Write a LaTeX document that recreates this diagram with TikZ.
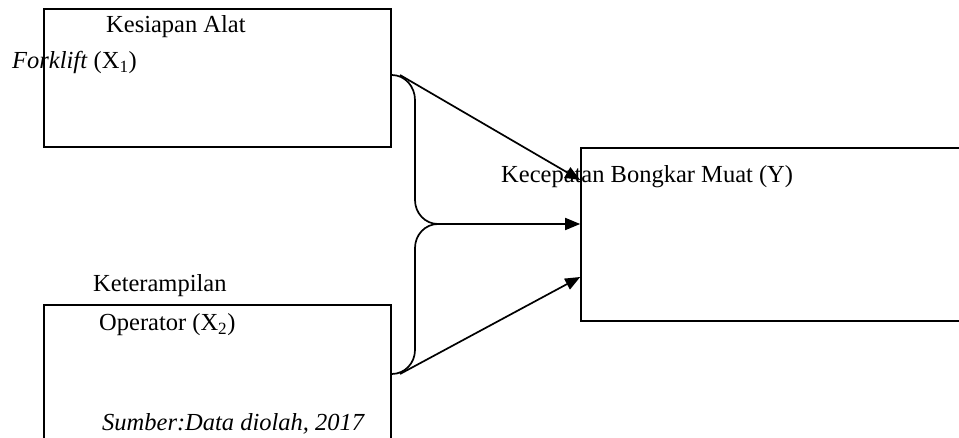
\documentclass[tikz,border=0pt]{standalone}
\usepackage{fontspec}
\setmainfont{Liberation Serif}
\usetikzlibrary{arrows.meta}
\begin{document}
\begin{tikzpicture}[x=1pt,y=-1pt,
  box/.style={draw,line width=1.6pt,inner sep=0pt},
  lbl/.style={anchor=base west,inner sep=0pt,font=\fontsize{24.5}{28}\selectfont},
  link/.style={line width=1.7pt},
  arr/.style={link,-{Triangle[length=15pt,width=12pt]}}]
\useasboundingbox (0,0) rectangle (959,438);
% variable boxes
\node[box,minimum width=347pt,minimum height=138pt] (b1) at (217.5,78) {};
\node[box,minimum width=347pt,minimum height=145pt] (b2) at (217.5,377.5) {};
\node[box,minimum width=384pt,minimum height=173pt] (by) at (773,234.5) {};
% labels
\node[lbl] (t1) at (106,33) {Kesiapan Alat};
\node[lbl] (t2) at (12,69) {\textit{Forklift} (X\textsubscript{1})};
\node[lbl] (t3) at (93,292) {Keterampilan};
\node[lbl] (t4) at (99,331) {Operator (X\textsubscript{2})};
\node[lbl] (t5) at (102,430) {\textit{Sumber:Data diolah, 2017}};
\node[lbl] (t6) at (501,183) {Kecepatan Bongkar Muat (Y)};
% brace joining both inputs
\coordinate (u) at (b1.east |- 0,75);
\coordinate (d) at (b2.east |- 0,374);
\coordinate (tip) at (438,224);
\draw[link] (u) to[out=0,in=90] (415,100) -- (415,200) to[out=-90,in=180] (tip)
  to[out=180,in=90] (415,248) -- (415,350) to[out=-90,in=0] (d);
% arrows into the outcome box
\coordinate (us) at (400,75);
\coordinate (ds) at (400,374);
\draw[arr] (us) -- (by.west |- 0,180);
\draw[arr] (tip) -- (by.west |- tip);
\draw[arr] (ds) -- (by.west |- 0,277);
\end{tikzpicture}
\end{document}
